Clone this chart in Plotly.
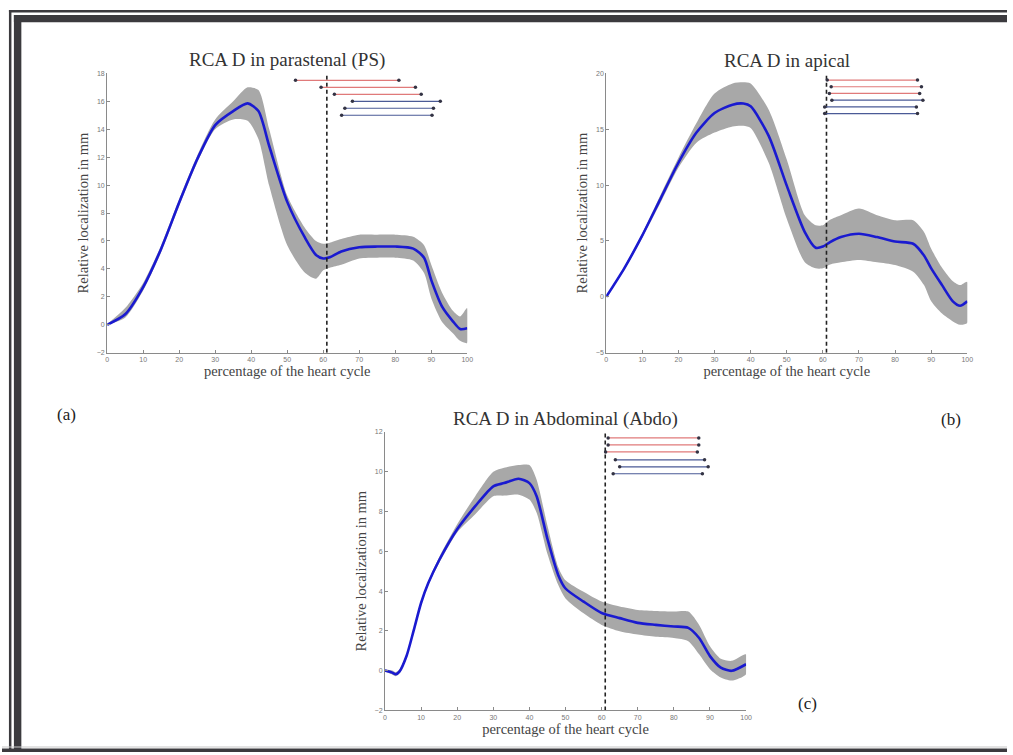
import plotly.graph_objects as go

W, H = 1013, 755

# ---------------- data ----------------
# Panel (a) parasternal
a_x = [0, 5, 10, 15, 20, 25, 30, 35, 39, 42, 45, 50, 55, 58, 60, 62, 65, 70, 75, 80, 85, 88, 90, 93, 96, 98, 100]
a_mean = [0.0, 0.75, 2.7, 5.45, 8.75, 11.85, 14.3, 15.3, 15.85, 15.3, 12.8, 8.8, 6.2, 5.0, 4.75, 4.85, 5.25, 5.55, 5.6, 5.6, 5.45, 4.8, 3.2, 1.3, 0.25, -0.3, -0.25]
a_upper = [0.05, 1.2, 3.0, 5.7, 9.0, 12.1, 14.7, 16.0, 17.0, 16.8, 14.0, 9.25, 6.9, 6.0, 5.8, 5.9, 6.15, 6.45, 6.45, 6.45, 6.3, 5.7, 4.3, 2.3, 1.0, 0.6, 1.2]
a_lower = [0.0, 0.5, 2.45, 5.2, 8.5, 11.6, 14.0, 14.7, 14.6, 13.3, 9.95, 5.7, 3.7, 3.3, 3.9, 4.1, 4.3, 4.75, 4.8, 4.8, 4.6, 3.7, 1.9, 0.2, -0.6, -1.15, -1.3]
a_int_start = [52.3, 59.4, 63.1, 68.1, 66.0, 65.1]
a_int_end = [81.0, 85.6, 87.2, 92.5, 90.6, 90.2]
a_int_y = [17.5, 17.0, 16.5, 16.0, 15.5, 15.0]

# Panel (b) apical
b_x = [0, 5, 10, 15, 20, 25, 30, 35, 38, 40, 45, 50, 55, 58, 60, 62, 65, 70, 75, 80, 85, 88, 90, 93, 96, 98, 100]
b_mean = [0.0, 2.55, 5.5, 8.75, 12.0, 14.7, 16.45, 17.2, 17.3, 17.05, 14.4, 9.95, 5.8, 4.4, 4.5, 4.9, 5.35, 5.65, 5.35, 4.95, 4.75, 3.7, 2.55, 1.05, -0.4, -0.8, -0.4]
b_upper = [0.05, 2.7, 5.7, 9.1, 12.45, 15.55, 18.2, 19.1, 19.2, 19.1, 16.75, 12.3, 7.3, 6.4, 6.4, 6.9, 7.3, 7.9, 7.3, 6.85, 6.85, 5.8, 4.3, 2.6, 1.4, 1.05, 1.35]
b_lower = [0.0, 2.4, 5.3, 8.4, 11.55, 13.8, 14.7, 15.25, 15.3, 15.1, 12.0, 7.0, 3.1, 2.55, 2.55, 2.9, 3.1, 3.3, 3.1, 2.85, 2.25, 1.05, -0.4, -1.5, -2.2, -2.5, -2.35]
b_int_start = [61.2, 62.3, 61.8, 62.5, 60.5, 60.5]
b_int_end = [86.2, 87.3, 86.8, 87.7, 85.9, 86.2]
b_int_y = [19.4, 18.8, 18.2, 17.6, 17.0, 16.4]

# Panel (c) abdominal
c_x = [0, 2, 3, 4, 6, 8, 10, 12, 15, 20, 25, 30, 33, 37, 40, 42, 45, 48, 50, 55, 60, 65, 70, 75, 80, 84, 87, 90, 93, 96, 100]
c_mean = [0.0, -0.1, -0.18, -0.05, 0.75, 2.05, 3.4, 4.4, 5.55, 7.11, 8.27, 9.27, 9.43, 9.65, 9.43, 8.77, 6.62, 4.8, 4.13, 3.47, 2.9, 2.64, 2.4, 2.3, 2.22, 2.15, 1.64, 0.73, 0.15, -0.01, 0.32]
c_upper = [0.05, 0.0, -0.08, 0.05, 0.85, 2.15, 3.5, 4.5, 5.7, 7.36, 8.77, 10.0, 10.2, 10.34, 10.34, 9.6, 7.28, 5.2, 4.54, 3.96, 3.47, 3.22, 3.05, 3.0, 2.97, 2.97, 2.3, 1.23, 0.6, 0.49, 0.82]
c_lower = [-0.05, -0.2, -0.28, -0.15, 0.65, 1.95, 3.3, 4.3, 5.4, 6.95, 7.86, 8.77, 8.8, 8.85, 8.6, 7.94, 5.87, 4.3, 3.63, 2.88, 2.3, 1.98, 1.81, 1.7, 1.64, 1.48, 0.82, 0.07, -0.35, -0.5, -0.18]
c_int_start = [61.8, 61.8, 61.1, 63.8, 65.0, 63.2]
c_int_end = [86.9, 86.9, 86.5, 88.5, 89.5, 87.9]
c_int_y = [11.7, 11.35, 11.0, 10.6, 10.25, 9.9]

int_colors = ["#e07a7a", "#e07a7a", "#e07a7a", "#4a5a96", "#4a5a96", "#4a5a96"]
vline_x = 61

titles = ["RCA D in parastenal (PS)", "RCA D in apical", "RCA D in Abdominal (Abdo)"]
x_label = "percentage of the heart cycle"
y_label = "Relative localization in mm"
x_ticks = [0, 10, 20, 30, 40, 50, 60, 70, 80, 90, 100]
a_yticks = [-2, 0, 2, 4, 6, 8, 10, 12, 14, 16, 18]
b_yticks = [-5, 0, 5, 10, 15, 20]
c_yticks = [-2, 0, 2, 4, 6, 8, 10, 12]
panel_labels = ["(a)", "(b)", "(c)"]

# ---------------- layout helpers ----------------
def px_x(p):
    return p / W

def px_y(p):
    return 1 - p / H

panels = [
    dict(x=a_x, m=a_mean, u=a_upper, l=a_lower, s=a_int_start, e=a_int_end, iy=a_int_y,
         yt=a_yticks, yr=[-2, 18], box=(106, 469, 70, 352)),
    dict(x=b_x, m=b_mean, u=b_upper, l=b_lower, s=b_int_start, e=b_int_end, iy=b_int_y,
         yt=b_yticks, yr=[-5, 20], box=(609, 973, 70, 352)),
    dict(x=c_x, m=c_mean, u=c_upper, l=c_lower, s=c_int_start, e=c_int_end, iy=c_int_y,
         yt=c_yticks, yr=[-2, 12], box=(386, 750, 432, 713)),
]

fig = go.Figure()
layout = dict(width=W, height=H, margin=dict(l=0, r=0, t=0, b=0),
              paper_bgcolor="white", plot_bgcolor="white", showlegend=False)
annotations = []
shapes = []

serif = "Liberation Serif, Times New Roman, serif"

for i, p in enumerate(panels):
    n = "" if i == 0 else str(i + 1)
    xa, ya = "x" + n, "y" + n
    x0, x1, y0, y1 = p["box"]
    # band
    fig.add_trace(go.Scatter(x=p["x"] + p["x"][::-1], y=p["u"] + p["l"][::-1],
                             fill="toself", fillcolor="#a8a8a8",
                             line=dict(width=0, shape="spline", smoothing=0.7),
                             mode="lines", hoverinfo="skip", xaxis=xa, yaxis=ya))
    # mean
    fig.add_trace(go.Scatter(x=p["x"], y=p["m"], mode="lines",
                             line=dict(color="#1a1ad0", width=2.6, shape="spline", smoothing=0.7),
                             xaxis=xa, yaxis=ya))
    # vertical dashed line
    fig.add_trace(go.Scatter(x=[vline_x, vline_x], y=p["yr"], mode="lines",
                             line=dict(color="#222222", width=1.6, dash="4px,3px"),
                             xaxis=xa, yaxis=ya))
    # intervals
    for k in range(len(p["s"])):
        fig.add_trace(go.Scatter(x=[p["s"][k], p["e"][k]], y=[p["iy"][k], p["iy"][k]],
                                 mode="lines+markers",
                                 line=dict(color=int_colors[k], width=1.2),
                                 marker=dict(size=3.5, color="#333344"),
                                 xaxis=xa, yaxis=ya))
    axis_common = dict(showgrid=False, zeroline=False, showline=True, linecolor="#8a8a8a",
                       linewidth=1, ticks="inside", ticklen=3, tickcolor="#8a8a8a",
                       tickfont=dict(size=7, color="#777777", family="Liberation Sans, Arial"),
                       mirror=False)
    layout["xaxis" + n] = dict(axis_common, domain=[px_x(x0), px_x(x1)], range=[0, 100],
                               tickvals=x_ticks, anchor=ya,
                               title=dict(text=x_label, standoff=2,
                                          font=dict(family=serif, size=14.5, color="#444444")))
    layout["yaxis" + n] = dict(axis_common, domain=[px_y(y1), px_y(y0)], range=p["yr"],
                               tickvals=p["yt"], anchor=xa,
                               title=dict(text=y_label, standoff=4,
                                          font=dict(family=serif, size=14.5, color="#444444")))
    annotations.append(dict(text=titles[i], x=px_x((x0 + x1) / 2), y=px_y(y0 - 13),
                            xref="paper", yref="paper", showarrow=False,
                            font=dict(family=serif, size=19, color="#333333"),
                            xanchor="center", yanchor="middle"))

for txt, (lx, ly) in zip(panel_labels, [(65, 414), (957, 419), (812, 706)]):
    annotations.append(dict(text=txt, x=px_x(lx), y=px_y(ly), xref="paper", yref="paper",
                            showarrow=False, font=dict(family=serif, size=17, color="#222222"),
                            xanchor="center", yanchor="middle"))

# frame borders
dark = "#3b3a3e"
def rect(xa0, xa1, ya0, ya1, color):
    shapes.append(dict(type="rect", xref="paper", yref="paper",
                       x0=px_x(xa0), x1=px_x(xa1), y0=px_y(ya1), y1=px_y(ya0),
                       fillcolor=color, line=dict(width=0), layer="above"))

rect(7, W, 6, 8.5, dark)      # thin top
rect(7, 9.5, 6, H, dark)      # thin left
rect(12, W, 11, 18.5, dark)   # thick top
rect(12, 19.5, 11, H, dark)   # thick left
rect(0, W, 749.5, 750.5, "#c8c8c8")
rect(0, W, 751.5, H, dark)    # bottom

layout["annotations"] = annotations
layout["shapes"] = shapes
fig.update_layout(**layout)
fig.write_html("out.html", config={"displayModeBar": False},
               post_script="document.body.style.margin='0';document.body.style.overflow='hidden';")
